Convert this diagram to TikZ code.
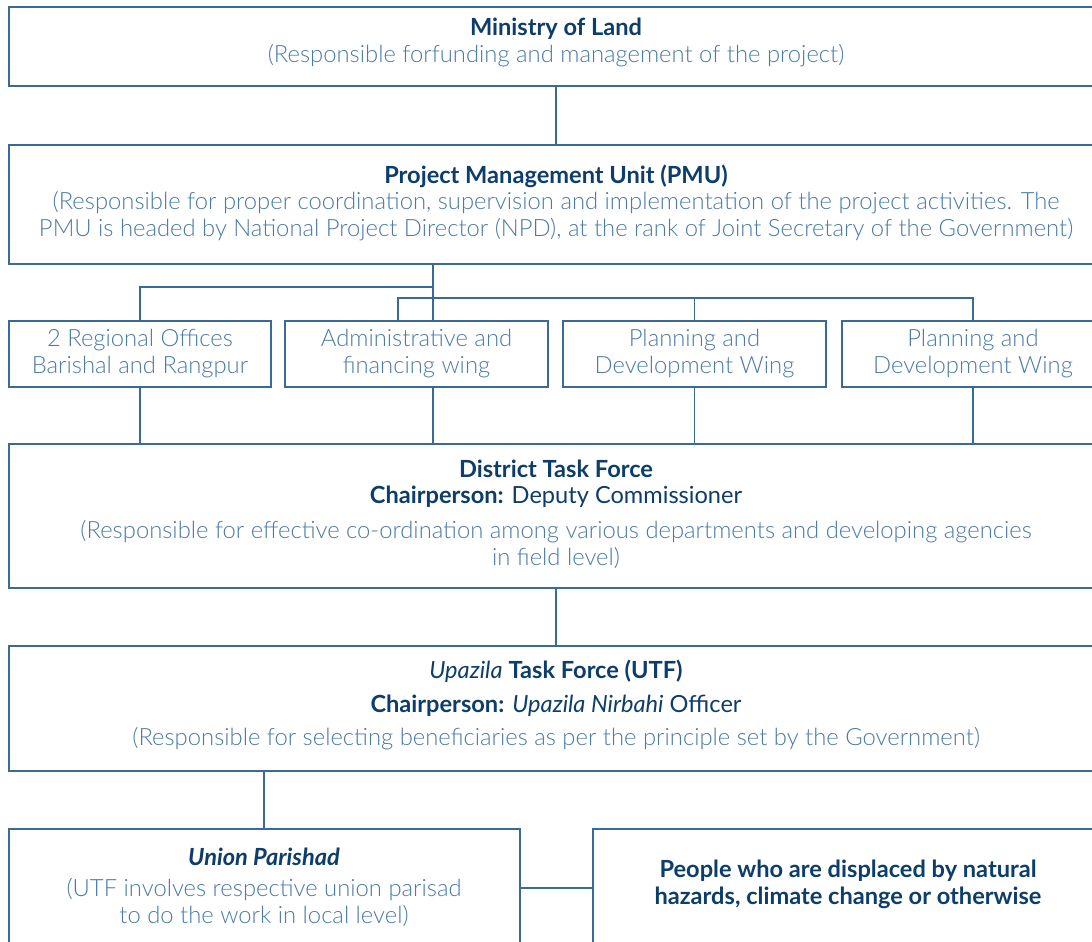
\documentclass[tikz,border=0pt]{standalone}
\usepackage{fontspec}
\setmainfont{Lato}
\newfontfamily\lightfont{Lato Light}
\definecolor{boxline}{HTML}{3A6A98}
\definecolor{darktext}{HTML}{0D3D6B}
\definecolor{lighttext}{HTML}{4A7AA8}
\begin{document}
\begin{tikzpicture}[x=1pt,y=-1pt,
  box/.style={draw=boxline,line width=1.1pt,rectangle,inner sep=0pt},
  conn/.style={draw=boxline,line width=1.1pt},
  txt/.style={align=center,inner sep=0pt,font=\fontsize{23.6}{27}\selectfont},
  lt/.style={text=lighttext,font=\lightfont\fontsize{23.8}{27}\selectfont},
  dk/.style={text=darktext}]
\clip (0,0) rectangle (1092,942);
\fill[white] (0,0) rectangle (1092,942);
% boxes
\node[box,minimum width=1094pt,minimum height=79pt] (min) at (556,46.5) {};
\node[box,minimum width=1094pt,minimum height=119pt] (pmu) at (556,204.5) {};
\node[box,minimum width=262pt,minimum height=66pt] (ra) at (140,354) {};
\node[box,minimum width=263pt,minimum height=66pt] (rb) at (416.5,354) {};
\node[box,minimum width=263pt,minimum height=66pt] (rc) at (694.5,354) {};
\node[box,minimum width=262pt,minimum height=66pt] (rd) at (973,354) {};
\node[box,minimum width=1094pt,minimum height=144pt] (dtf) at (556,516) {};
\node[box,minimum width=1094pt,minimum height=125pt] (utf) at (556,708.5) {};
\node[box,minimum width=511pt,minimum height=131pt] (up) at (264.5,894.5) {};
\node[box,minimum width=510pt,minimum height=131pt] (ppl) at (848,894.5) {};
% texts
\node[txt,dk] (t1a) at (556,29) {\bfseries Ministry of Land};
\node[txt,lt] (t1b) at (556,56) {(Responsible forfunding and management of the project)};
\node[txt,dk] (t2a) at (556,176) {\bfseries Project Management Unit (PMU)};
\node[txt,lt] (t2b) at (556,216.5) {(Responsible for proper coordination, supervision and implementation of the project activities. The\\PMU is headed by National Project Director (NPD), at the rank of Joint Secretary of the Government)};
\node[txt,lt] (ta) at (ra) {2 Regional Offices\\Barishal and Rangpur};
\node[txt,lt] (tb) at (rb) {Administrative and\\financing wing};
\node[txt,lt] (tc) at (rc) {Planning and\\Development Wing};
\node[txt,lt] (td) at (rd) {Planning and\\Development Wing};
\node[txt,dk] (t3a) at (556,469) {\bfseries District Task Force};
\node[txt,dk] (t3b) at (556,497) {\textbf{Chairperson:} Deputy Commissioner};
\node[txt,lt] (t3c) at (556,544) {(Responsible for effective co-ordination among various departments and developing agencies\\in field level)};
\node[txt,dk] (t4a) at (556,671) {\textit{Upazila} \textbf{Task Force (UTF)}};
\node[txt,dk] (t4b) at (556,706) {\textbf{Chairperson:} \textit{Upazila Nirbahi} Officer};
\node[txt,lt] (t4c) at (556,739) {(Responsible for selecting beneficiaries as per the principle set by the Government)};
\node[txt,dk] (t5a) at (264,857) {\bfseries\itshape Union Parishad};
\node[txt,lt] (t5b) at (264,902.5) {(UTF involves respective union parisad\\to do the work in local level)};
\node[txt,dk] (t6) at (848,884) {\bfseries People who are displaced by natural\\\bfseries hazards, climate change or otherwise};
% connectors
\coordinate (j1) at (433,287);
\coordinate (j2) at (398,298);
\draw[conn] (min.south) -- (pmu.north);
\draw[conn] (433,0 |- pmu.south) -- (433,0 |- rb.north);
\draw[conn] (j1) -| (ra.north);
\draw[conn] (j2 |- rb.north) -- (j2) -| (rd.north);
\draw[conn] (j2 -| rc.north) -- (rc.north);
\draw[conn] (ra.south) -- (ra.south |- dtf.north);
\draw[conn] (433,0 |- rb.south) -- (433,0 |- dtf.north);
\draw[conn] (rc.south) -- (rc.south |- dtf.north);
\draw[conn] (rd.south) -- (rd.south |- dtf.north);
\draw[conn] (dtf.south) -- (utf.north);
\draw[conn] (264,0 |- utf.south) -- (264,0 |- up.north);
\draw[conn] (up.east |- 0,888) -- (ppl.west |- 0,888);
\end{tikzpicture}
\end{document}
